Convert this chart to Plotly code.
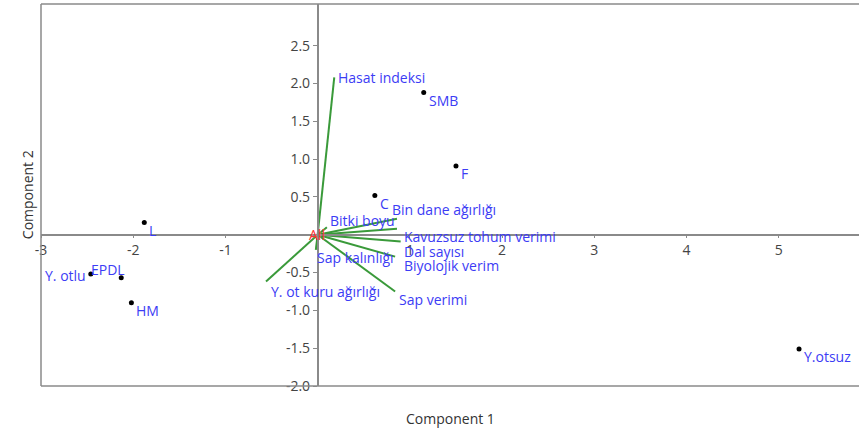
import plotly.graph_objects as go

# Observation scores (Component 1, Component 2)
obs_names = ["L", "Y. otlu", "EPDL", "HM", "C", "SMB", "F", "Y.otsuz"]
obs_pc1 = [-1.88, -2.46, -2.13, -2.02, 0.62, 1.15, 1.50, 5.22]
obs_pc2 = [0.16, -0.52, -0.57, -0.90, 0.52, 1.88, 0.91, -1.51]

# Variable loading vectors
var_names = ["Hasat indeksi", "Bin dane ağırlığı", "Bitki boyu", "Kavuzsuz tohum verimi",
             "Dal sayısı", "Biyolojik verim", "Sap kalınlığı", "Sap verimi", "Y. ot kuru ağırlığı"]
var_pc1 = [0.18, 0.86, 0.10, 0.86, 0.90, 0.84, -0.02, 0.84, -0.56]
var_pc2 = [2.08, 0.21, 0.10, 0.08, -0.09, -0.29, -0.20, -0.75, -0.62]

x_ticks = [-3, -2, -1, 1, 2, 3, 4, 5]
y_ticks = [-2.0, -1.5, -1.0, -0.5, 0.5, 1.0, 1.5, 2.0, 2.5]

# label placement styles (pixel shifts)
obs_label_style = {"Y. otlu": ("right", -3, -1), "EPDL": ("right", 6, 8)}
var_label_style = [(2, 0), (-7, 9), (1, 7), (5, -8), (1, -10), (7, -9), (-1, -8), (2, -8), (3, -10)]

XR = [-3, 5.87]
YR = [-2.0, 3.05]

FONT = "Open Sans"
FS = 14
LABEL_COLOR = "#3c3cf5"
GREEN = "#3a9a3a"
AXIS_COLOR = "#8a8a8a"

fig = go.Figure()

vx, vy = [], []
for a, b in zip(var_pc1, var_pc2):
    vx += [0, a, None]
    vy += [0, b, None]
fig.add_trace(go.Scatter(x=vx, y=vy, mode="lines", line=dict(color=GREEN, width=2),
                         hoverinfo="skip", showlegend=False))

fig.add_trace(go.Scatter(x=obs_pc1, y=obs_pc2, mode="markers",
                         marker=dict(color="black", size=5), text=obs_names,
                         showlegend=False))

ann = []
for n, a, b in zip(obs_names, obs_pc1, obs_pc2):
    anc, xs, ys = obs_label_style.get(n, ("left", 3, -8))
    ann.append(dict(x=a, y=b, text=n, showarrow=False, xanchor=anc, yanchor="middle",
                    xshift=xs, yshift=ys, font=dict(family=FONT, size=FS, color=LABEL_COLOR)))
for n, a, b, (xs, ys) in zip(var_names, var_pc1, var_pc2, var_label_style):
    ann.append(dict(x=a, y=b, text=n, showarrow=False, xanchor="left", yanchor="middle",
                    xshift=xs, yshift=ys, font=dict(family=FONT, size=FS, color=LABEL_COLOR)))
ann.append(dict(x=0, y=0, text="All", showarrow=False, xanchor="center", yanchor="middle",
                xshift=-1, font=dict(family=FONT, size=FS, color="#ff3030")))
ann.append(dict(x=0.5, y=-0.115, xref="paper", yref="paper", text="Component 1",
                showarrow=False, font=dict(family=FONT, size=FS, color="#333")))
ann.append(dict(x=-0.031, y=0.5, xref="paper", yref="paper", text="Component 2",
                showarrow=False, textangle=-90, font=dict(family=FONT, size=FS, color="#333")))

xpos = (0 - YR[0]) / (YR[1] - YR[0])
ypos = (0 - XR[0]) / (XR[1] - XR[0])

fig.update_layout(
    width=859, height=429,
    margin=dict(l=41, r=0, t=4, b=43),
    plot_bgcolor="white", paper_bgcolor="white",
    annotations=ann,
    xaxis=dict(range=XR, anchor="free", position=xpos, showgrid=False, zeroline=False,
               showline=True, linecolor=AXIS_COLOR, linewidth=1.5,
               tickvals=x_ticks, ticktext=[str(v) for v in x_ticks],
               ticks="outside", ticklen=3, tickcolor=AXIS_COLOR,
               tickfont=dict(family=FONT, size=FS, color="#444")),
    yaxis=dict(range=YR, anchor="free", position=ypos, showgrid=False, zeroline=False,
               showline=True, linecolor=AXIS_COLOR, linewidth=1.5,
               tickvals=y_ticks, ticktext=[f"{v:.1f}" for v in y_ticks],
               ticks="outside", ticklen=4, tickcolor=AXIS_COLOR,
               tickfont=dict(family=FONT, size=FS, color="#444")),
    shapes=[
        dict(type="line", xref="paper", yref="paper", x0=0, x1=0, y0=0, y1=1,
             line=dict(color=AXIS_COLOR, width=1.5)),
        dict(type="line", xref="paper", yref="paper", x0=0, x1=1, y0=1, y1=1,
             line=dict(color=AXIS_COLOR, width=1.5)),
        dict(type="line", xref="paper", yref="paper", x0=0, x1=1, y0=0, y1=0,
             line=dict(color=AXIS_COLOR, width=1.5)),
    ],
)

fig.write_html("out.html")
